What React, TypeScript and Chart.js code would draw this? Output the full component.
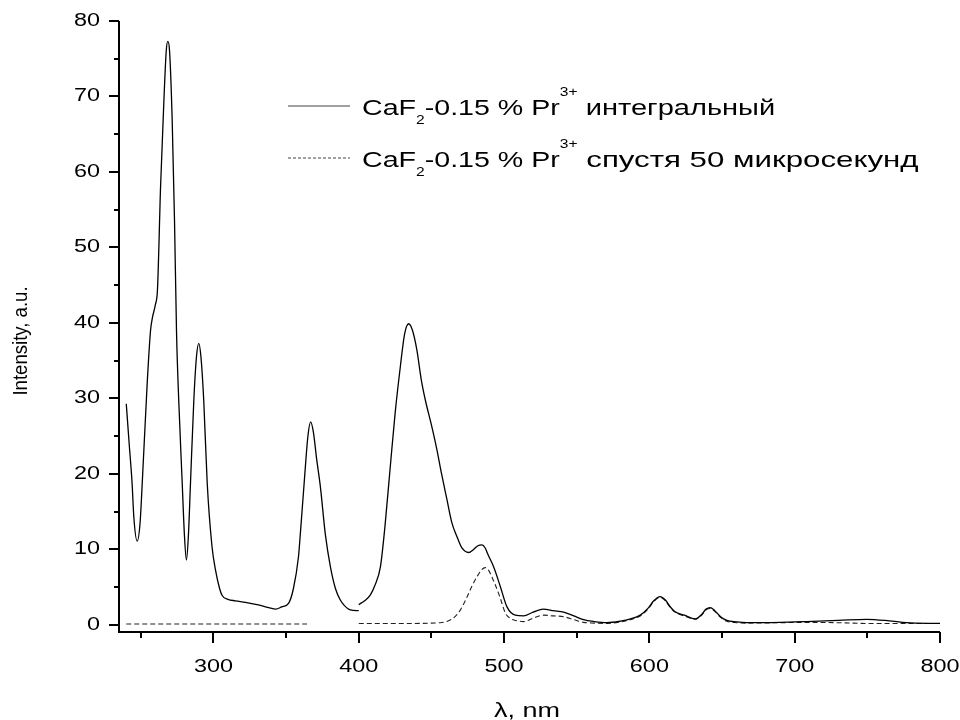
import { useEffect, useRef } from "react";
import { Chart, registerables } from "chart.js";

Chart.register(...registerables);

// ---- Data (wavelength, nm / intensity, a.u.) ----
const solidWl1 = [240, 242, 244, 245.2, 247.5, 249.5, 251, 254.4, 256.7, 258, 260, 261.5, 263.6, 265.8, 267.5, 268.6, 269.8, 271.6, 273.2, 274.6, 276.1, 278.5, 280, 281.4, 282.8, 284.2, 286.5, 288.3, 289.9, 291.4, 293.3, 295.7, 299, 301.4, 304, 306, 310, 315, 322, 330, 338, 343, 347, 351.8, 355, 358.5, 360, 362.5, 365, 366.9, 368.8, 371, 373.6, 377, 380.5, 384, 387.3, 390, 394.2, 400];
const solidInt1 = [29.3, 24, 18.8, 14.3, 11.1, 13.5, 18.8, 32, 39, 40.7, 42.4, 44.5, 58, 69, 76, 77.3, 76, 66.9, 53.6, 38.7, 29.8, 18.8, 12, 8.6, 12, 18.8, 29.8, 35.5, 37.3, 35.5, 29.8, 18.8, 10.4, 7.3, 5, 3.9, 3.4, 3.2, 3.0, 2.7, 2.3, 2.1, 2.4, 2.9, 4.8, 9, 12.6, 19, 25, 26.9, 25.5, 22, 18.3, 12, 7.7, 4.8, 3.3, 2.6, 2.0, 1.9];

const solidWl2 = [400, 404, 408, 411, 414.9, 418, 421.7, 425, 428.6, 431.5, 434.3, 437, 440, 443, 445.8, 450, 453.8, 457, 460.7, 464, 467.6, 471, 475.6, 479, 482, 484.8, 487, 489, 492.8, 497.4, 502, 507.7, 513.4, 520, 527, 534, 541, 548, 554.7, 562, 570.8, 580, 587, 593.7, 599, 603, 607.4, 611, 614, 617.7, 624, 631.5, 636, 639, 641.8, 645, 649, 653.3, 660, 667, 690, 708, 730, 749.6, 765, 777, 800];
const solidInt2 = [2.7, 3.2, 4.0, 5.2, 7.7, 13, 21, 28, 34.2, 38.5, 39.9, 39, 36.4, 32.5, 29.8, 26.5, 23.2, 20, 16.6, 13.6, 11.7, 10.2, 9.6, 10, 10.5, 10.6, 10.2, 9.3, 7.7, 5.1, 2.4, 1.3, 1.2, 1.7, 2.1, 1.9, 1.7, 1.2, 0.7, 0.45, 0.3, 0.5, 0.8, 1.3, 2.2, 3.2, 3.75, 3.3, 2.5, 1.75, 1.3, 0.8, 1.4, 2.1, 2.3, 1.9, 1.1, 0.6, 0.4, 0.3, 0.35, 0.45, 0.6, 0.75, 0.55, 0.3, 0.2];

const dashWl1 = [240, 300, 364.4];
const dashInt1 = [0.13, 0.13, 0.13];

const dashWl2 = [400, 430, 456, 461, 465, 470, 474.5, 478, 481.4, 484.5, 487, 489.5, 492, 494, 497.5, 500.8, 504, 508, 513.4, 520, 527, 534, 541, 548, 554.7, 562, 571, 580, 587, 593.7, 599, 603, 607.4, 611, 614, 617.7, 624, 631.5, 636, 639, 641.8, 645, 649, 653.3, 660, 667, 690, 708, 730, 750, 777, 800];
const dashInt2 = [0.2, 0.2, 0.3, 0.5, 0.9, 2, 3.7, 5.2, 6.4, 7.3, 7.6, 7.2, 6.2, 5.3, 3.5, 1.6, 0.9, 0.6, 0.45, 0.9, 1.3, 1.2, 1.1, 0.7, 0.35, 0.25, 0.2, 0.4, 0.7, 1.2, 2.1, 3.1, 3.65, 3.2, 2.4, 1.7, 1.2, 0.75, 1.3, 2.0, 2.2, 1.8, 1.0, 0.5, 0.3, 0.25, 0.3, 0.35, 0.3, 0.2, 0.2, 0.2];

const xMajorTicks = [300, 400, 500, 600, 700, 800];
const xMinorTicks = [250, 350, 450, 550, 650, 750];
const yMajorTicks = [0, 10, 20, 30, 40, 50, 60, 70, 80];
const yMinorTicks = [5, 15, 25, 35, 45, 55, 65, 75];

const xTitle = "λ, nm";
const yTitle = "Intensity, a.u.";
const legendItems = [
  { parts: ["CaF", "2", "-0.15 % Pr", "3+", " интегральный"], dashed: false, tailStretch: 1.32 },
  { parts: ["CaF", "2", "-0.15 % Pr", "3+", " спустя 50 микросекунд"], dashed: true, tailStretch: 1.42 },
];

const FONT = "'Liberation Sans', Arial, sans-serif";

function toPoints(xs: number[], ys: number[]) {
  return xs.map((x, i) => ({ x, y: ys[i] }));
}

function stretchText(ctx: CanvasRenderingContext2D, text: string, x: number, y: number, sx: number, align: CanvasTextAlign) {
  ctx.save();
  ctx.translate(x, y);
  ctx.scale(sx, 1);
  ctx.textAlign = align;
  ctx.fillText(text, 0, 0);
  ctx.restore();
}

const decorPlugin = {
  id: "decor",
  afterDraw(chart: any) {
    const ctx: CanvasRenderingContext2D = chart.ctx;
    const xs = chart.scales.x;
    const ys = chart.scales.y;
    const a = chart.chartArea;
    ctx.save();
    ctx.strokeStyle = "#000";
    ctx.fillStyle = "#000";
    ctx.lineWidth = 2;
    ctx.setLineDash([]);
    // axis lines
    ctx.beginPath();
    ctx.moveTo(a.left, ys.getPixelForValue(80));
    ctx.lineTo(a.left, a.bottom);
    ctx.lineTo(a.right, a.bottom);
    ctx.stroke();
    // ticks
    ctx.beginPath();
    yMajorTicks.forEach((v) => {
      const y = Math.round(ys.getPixelForValue(v));
      ctx.moveTo(a.left, y);
      ctx.lineTo(a.left - 10, y);
    });
    yMinorTicks.forEach((v) => {
      const y = Math.round(ys.getPixelForValue(v));
      ctx.moveTo(a.left, y);
      ctx.lineTo(a.left - 5, y);
    });
    xMajorTicks.forEach((v) => {
      const x = Math.round(xs.getPixelForValue(v));
      ctx.moveTo(x, a.bottom);
      ctx.lineTo(x, a.bottom + 11);
    });
    xMinorTicks.forEach((v) => {
      const x = Math.round(xs.getPixelForValue(v));
      ctx.moveTo(x, a.bottom);
      ctx.lineTo(x, a.bottom + 6);
    });
    ctx.stroke();

    // tick labels
    ctx.font = `18px ${FONT}`;
    ctx.textBaseline = "middle";
    yMajorTicks.forEach((v) => {
      stretchText(ctx, String(v), a.left - 19, ys.getPixelForValue(v), 1.3, "right");
    });
    ctx.textBaseline = "alphabetic";
    xMajorTicks.forEach((v) => {
      stretchText(ctx, String(v), xs.getPixelForValue(v), a.bottom + 40, 1.3, "center");
    });

    // axis titles
    ctx.font = `20px ${FONT}`;
    stretchText(ctx, xTitle, 527, 717, 1.35, "center");
    ctx.save();
    ctx.translate(27, 341);
    ctx.rotate(-Math.PI / 2);
    ctx.scale(0.93, 1);
    ctx.font = `20px ${FONT}`;
    ctx.textAlign = "center";
    ctx.fillText(yTitle, 0, 0);
    ctx.restore();

    // legend
    const rows = [115, 167];
    const sx = 1.3;
    legendItems.forEach((item, i) => {
      const base = rows[i];
      const lineY = base - 9;
      ctx.save();
      ctx.lineWidth = 1.2;
      ctx.strokeStyle = "#444";
      ctx.setLineDash(item.dashed ? [3, 2] : []);
      ctx.beginPath();
      ctx.moveTo(288, lineY);
      ctx.lineTo(350, lineY);
      ctx.stroke();
      ctx.restore();
      let x = 362;
      const big = `22px ${FONT}`;
      const small = `12px ${FONT}`;
      const [p0, sub, p1, sup, p2] = item.parts;
      const seq: [string, string, number, number][] = [
        [p0, big, 0, sx],
        [sub, small, 9, sx],
        [p1, big, 0, sx],
        [sup, small, -19, sx],
        [p2, big, 0, item.tailStretch],
      ];
      ctx.textBaseline = "alphabetic";
      seq.forEach(([t, f, dy, s]) => {
        ctx.font = f;
        stretchText(ctx, t, x, base + dy, s, "left");
        x += ctx.measureText(t).width * s;
      });
    });
    ctx.restore();
  },
};

export default function App() {
  const ref = useRef<HTMLCanvasElement | null>(null);
  useEffect(() => {
    if (!ref.current) return;
    const lineCommon = {
      borderColor: "#000",
      borderWidth: 1.3,
      pointRadius: 0,
      fill: false,
      cubicInterpolationMode: "monotone" as const,
    };
    const chart = new Chart(ref.current, {
      type: "line",
      data: {
        datasets: [
          { ...lineCommon, data: toPoints(solidWl1, solidInt1) },
          { ...lineCommon, data: toPoints(solidWl2, solidInt2) },
          { ...lineCommon, borderWidth: 1.1, borderColor: "#222", borderDash: [5, 3], data: toPoints(dashWl1, dashInt1) },
          { ...lineCommon, borderWidth: 1.1, borderColor: "#222", borderDash: [5, 3], data: toPoints(dashWl2, dashInt2) },
        ],
      },
      options: {
        animation: false,
        responsive: false,
        devicePixelRatio: 1,
        layout: { padding: { left: 119, right: 20, top: 21, bottom: 88 } },
        plugins: { legend: { display: false }, tooltip: { enabled: false } },
        scales: {
          x: { type: "linear", min: 235, max: 800, display: false },
          y: { type: "linear", min: -0.93, max: 80, display: false },
        },
      },
      plugins: [decorPlugin],
    });
    return () => chart.destroy();
  }, []);
  return (
    <div style={{ position: "absolute", left: 0, top: 0, width: 960, height: 720, background: "#fff" }}>
      <canvas ref={ref} width={960} height={720} style={{ width: 960, height: 720 }} />
    </div>
  );
}
